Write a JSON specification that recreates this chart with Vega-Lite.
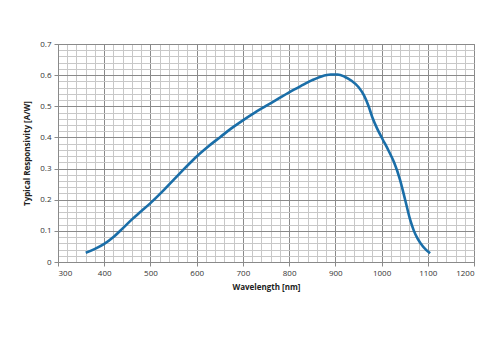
{
  "$schema": "https://vega.github.io/schema/vega-lite/v6.json",
  "width": 416,
  "height": 218,
  "autosize": {"type": "none"},
  "padding": {"left": 58, "top": 44, "right": 19, "bottom": 80},
  "background": "white",
  "config": {"view": {"stroke": "#888888", "strokeWidth": 1}},
  "data": {"values": [
    {"wl": 360, "r": 0.030}, {"wl": 380, "r": 0.042}, {"wl": 400, "r": 0.058},
    {"wl": 420, "r": 0.080}, {"wl": 440, "r": 0.108}, {"wl": 460, "r": 0.137},
    {"wl": 480, "r": 0.163}, {"wl": 500, "r": 0.189}, {"wl": 525, "r": 0.225},
    {"wl": 550, "r": 0.264}, {"wl": 575, "r": 0.302}, {"wl": 600, "r": 0.339},
    {"wl": 625, "r": 0.371}, {"wl": 650, "r": 0.400}, {"wl": 675, "r": 0.429},
    {"wl": 700, "r": 0.455}, {"wl": 725, "r": 0.479}, {"wl": 750, "r": 0.501},
    {"wl": 775, "r": 0.523}, {"wl": 800, "r": 0.545}, {"wl": 825, "r": 0.565},
    {"wl": 850, "r": 0.584}, {"wl": 870, "r": 0.596}, {"wl": 890, "r": 0.602},
    {"wl": 905, "r": 0.602}, {"wl": 920, "r": 0.595}, {"wl": 935, "r": 0.582},
    {"wl": 950, "r": 0.562}, {"wl": 962, "r": 0.535}, {"wl": 972, "r": 0.500},
    {"wl": 980, "r": 0.465}, {"wl": 990, "r": 0.430}, {"wl": 1002, "r": 0.395},
    {"wl": 1015, "r": 0.358}, {"wl": 1027, "r": 0.320}, {"wl": 1040, "r": 0.264},
    {"wl": 1051, "r": 0.200}, {"wl": 1062, "r": 0.135}, {"wl": 1070, "r": 0.100},
    {"wl": 1078, "r": 0.075}, {"wl": 1090, "r": 0.049}, {"wl": 1105, "r": 0.028}
  ]},
  "mark": {"type": "line", "color": "#1a6ea8", "strokeWidth": 2.6, "interpolate": "monotone"},
  "encoding": {
    "x": {
      "field": "wl", "type": "quantitative",
      "scale": {"domain": [300, 1200], "nice": false, "zero": false},
      "axis": {
        "title": "Wavelength [nm]",
        "titleFont": "Open Sans", "titleFontSize": 8, "titleFontWeight": "bold", "titleColor": "#222222",
        "titlePadding": 6,
        "values": [300,320,340,360,380,400,420,440,460,480,500,520,540,560,580,600,620,640,660,680,700,720,740,760,780,800,820,840,860,880,900,920,940,960,980,1000,1020,1040,1060,1080,1100,1120,1140,1160,1180,1200],
        "labelExpr": "datum.value % 100 === 0 ? format(datum.value, 'd') : ''",
        "labelFont": "Open Sans", "labelFontSize": 8, "labelColor": "#333333", "labelPadding": 3,
        "gridColor": {"condition": {"test": "datum.value % 100 === 0", "value": "#8a8a8a"}, "value": "#c8c8c8"},
        "gridWidth": 1,
        "tickSize": 4,
        "tickColor": {"condition": {"test": "datum.value % 100 === 0", "value": "#8a8a8a"}, "value": "rgba(0,0,0,0)"},
        "domainColor": "#8a8a8a",
        "labelOverlap": false
      }
    },
    "y": {
      "field": "r", "type": "quantitative",
      "scale": {"domain": [0, 0.7], "nice": false},
      "axis": {
        "title": "Typical  Responsivity [A/W]",
        "titleFont": "Open Sans", "titleFontSize": 8, "titleFontWeight": "bold", "titleColor": "#222222",
        "titlePadding": 8,
        "values": [0,0.02,0.04,0.06,0.08,0.1,0.12,0.14,0.16,0.18,0.2,0.22,0.24,0.26,0.28,0.3,0.32,0.34,0.36,0.38,0.4,0.42,0.44,0.46,0.48,0.5,0.52,0.54,0.56,0.58,0.6,0.62,0.64,0.66,0.68,0.7],
        "labelExpr": "abs(datum.value*10 - round(datum.value*10)) < 0.000001 ? format(datum.value, '.1~f') : ''",
        "labelFont": "Open Sans", "labelFontSize": 8, "labelColor": "#333333", "labelPadding": 3,
        "gridColor": {"condition": {"test": "abs(datum.value*10 - round(datum.value*10)) < 0.000001", "value": "#8a8a8a"}, "value": "#c8c8c8"},
        "gridWidth": 1,
        "tickSize": 4,
        "tickColor": {"condition": {"test": "abs(datum.value*10 - round(datum.value*10)) < 0.000001", "value": "#8a8a8a"}, "value": "rgba(0,0,0,0)"},
        "domainColor": "#8a8a8a",
        "labelOverlap": false
      }
    }
  }
}
